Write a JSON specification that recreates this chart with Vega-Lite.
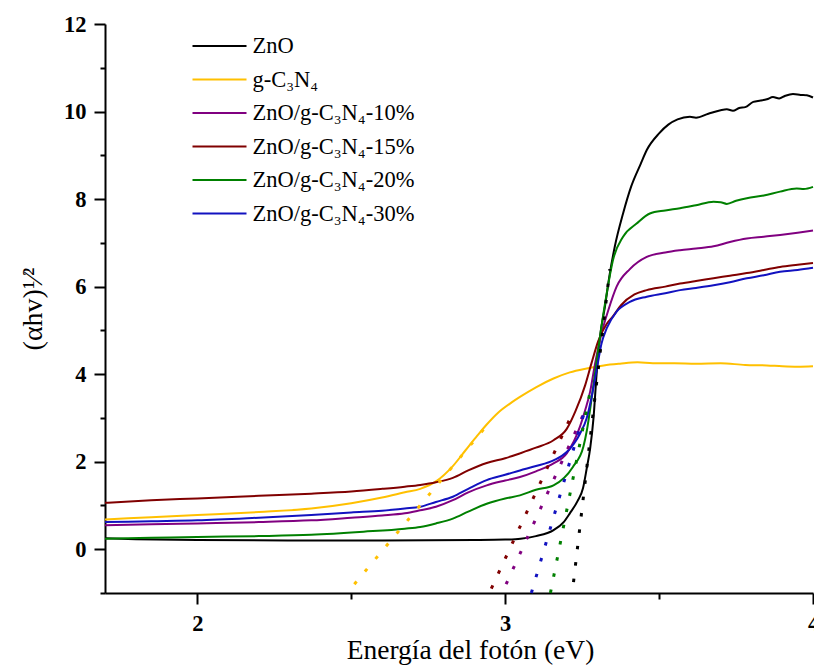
{
  "$schema": "https://vega.github.io/schema/vega-lite/v6.json",
  "width": 708,
  "height": 569,
  "autosize": "none",
  "padding": {"left": 105, "top": 24, "right": 1, "bottom": 72},
  "background": "white",
  "config": {
    "view": {"stroke": null},
    "font": "Liberation Serif",
    "axis": {"grid": false, "domainColor": "black", "domainWidth": 2, "tickColor": "black", "tickWidth": 2, "labelColor": "black", "titleColor": "black", "labelFont": "Liberation Serif", "titleFont": "Liberation Serif", "labelFontSize": 22.5, "labelFontWeight": "bold", "titleFontSize": 27.5, "titleFontWeight": "normal"},
    "legend": {"orient": "none", "legendX": 86.5, "legendY": 12, "symbolType": "stroke", "symbolSize": 2916, "symbolStrokeWidth": 2, "clipHeight": 20, "rowPadding": 10.5, "labelFont": "Liberation Serif", "labelFontSize": 22.5, "labelColor": "black", "labelOffset": 5, "labelLimit": 0, "padding": 0}
  },
  "datasets": {
    "curves": [
      {"series": "ZnO", "x": 1.70, "y": 0.25}, {"series": "ZnO", "x": 1.80, "y": 0.23}, {"series": "ZnO", "x": 2.00, "y": 0.21}, {"series": "ZnO", "x": 2.30, "y": 0.20}, {"series": "ZnO", "x": 2.60, "y": 0.20}, {"series": "ZnO", "x": 2.90, "y": 0.21}, {"series": "ZnO", "x": 3.00, "y": 0.22}, {"series": "ZnO", "x": 3.05, "y": 0.24}, {"series": "ZnO", "x": 3.10, "y": 0.30}, {"series": "ZnO", "x": 3.156, "y": 0.43}, {"series": "ZnO", "x": 3.19, "y": 0.62}, {"series": "ZnO", "x": 3.21, "y": 0.82}, {"series": "ZnO", "x": 3.235, "y": 1.1}, {"series": "ZnO", "x": 3.253, "y": 1.4}, {"series": "ZnO", "x": 3.265, "y": 1.85}, {"series": "ZnO", "x": 3.276, "y": 2.3}, {"series": "ZnO", "x": 3.287, "y": 3.0}, {"series": "ZnO", "x": 3.297, "y": 4.0}, {"series": "ZnO", "x": 3.308, "y": 4.85}, {"series": "ZnO", "x": 3.324, "y": 5.54}, {"series": "ZnO", "x": 3.34, "y": 6.3}, {"series": "ZnO", "x": 3.356, "y": 6.91}, {"series": "ZnO", "x": 3.383, "y": 7.67}, {"series": "ZnO", "x": 3.41, "y": 8.3}, {"series": "ZnO", "x": 3.44, "y": 8.8}, {"series": "ZnO", "x": 3.46, "y": 9.12}, {"series": "ZnO", "x": 3.50, "y": 9.5}, {"series": "ZnO", "x": 3.53, "y": 9.7}, {"series": "ZnO", "x": 3.56, "y": 9.82}, {"series": "ZnO", "x": 3.60, "y": 9.88}, {"series": "ZnO", "x": 3.62, "y": 9.86}, {"series": "ZnO", "x": 3.66, "y": 9.95}, {"series": "ZnO", "x": 3.70, "y": 10.03}, {"series": "ZnO", "x": 3.72, "y": 10.05}, {"series": "ZnO", "x": 3.74, "y": 10.02}, {"series": "ZnO", "x": 3.76, "y": 10.08}, {"series": "ZnO", "x": 3.78, "y": 10.1}, {"series": "ZnO", "x": 3.806, "y": 10.22}, {"series": "ZnO", "x": 3.83, "y": 10.25}, {"series": "ZnO", "x": 3.85, "y": 10.28}, {"series": "ZnO", "x": 3.87, "y": 10.33}, {"series": "ZnO", "x": 3.89, "y": 10.3}, {"series": "ZnO", "x": 3.91, "y": 10.36}, {"series": "ZnO", "x": 3.935, "y": 10.4}, {"series": "ZnO", "x": 3.96, "y": 10.38}, {"series": "ZnO", "x": 3.98, "y": 10.37}, {"series": "ZnO", "x": 4.00, "y": 10.32},

      {"series": "g-C₃N₄", "x": 1.70, "y": 0.68}, {"series": "g-C₃N₄", "x": 1.85, "y": 0.73}, {"series": "g-C₃N₄", "x": 2.00, "y": 0.78}, {"series": "g-C₃N₄", "x": 2.20, "y": 0.85}, {"series": "g-C₃N₄", "x": 2.37, "y": 0.93}, {"series": "g-C₃N₄", "x": 2.50, "y": 1.05}, {"series": "g-C₃N₄", "x": 2.60, "y": 1.18}, {"series": "g-C₃N₄", "x": 2.674, "y": 1.3}, {"series": "g-C₃N₄", "x": 2.724, "y": 1.38}, {"series": "g-C₃N₄", "x": 2.775, "y": 1.55}, {"series": "g-C₃N₄", "x": 2.83, "y": 1.9}, {"series": "g-C₃N₄", "x": 2.87, "y": 2.25}, {"series": "g-C₃N₄", "x": 2.91, "y": 2.6}, {"series": "g-C₃N₄", "x": 2.94, "y": 2.85}, {"series": "g-C₃N₄", "x": 2.977, "y": 3.12}, {"series": "g-C₃N₄", "x": 3.02, "y": 3.35}, {"series": "g-C₃N₄", "x": 3.048, "y": 3.48}, {"series": "g-C₃N₄", "x": 3.10, "y": 3.7}, {"series": "g-C₃N₄", "x": 3.157, "y": 3.9}, {"series": "g-C₃N₄", "x": 3.21, "y": 4.04}, {"series": "g-C₃N₄", "x": 3.265, "y": 4.13}, {"series": "g-C₃N₄", "x": 3.32, "y": 4.2}, {"series": "g-C₃N₄", "x": 3.373, "y": 4.24}, {"series": "g-C₃N₄", "x": 3.43, "y": 4.27}, {"series": "g-C₃N₄", "x": 3.48, "y": 4.25}, {"series": "g-C₃N₄", "x": 3.55, "y": 4.25}, {"series": "g-C₃N₄", "x": 3.62, "y": 4.24}, {"series": "g-C₃N₄", "x": 3.70, "y": 4.25}, {"series": "g-C₃N₄", "x": 3.78, "y": 4.21}, {"series": "g-C₃N₄", "x": 3.85, "y": 4.2}, {"series": "g-C₃N₄", "x": 3.90, "y": 4.18}, {"series": "g-C₃N₄", "x": 3.95, "y": 4.17}, {"series": "g-C₃N₄", "x": 4.00, "y": 4.18},

      {"series": "ZnO/g-C₃N₄-10%", "x": 1.70, "y": 0.55}, {"series": "ZnO/g-C₃N₄-10%", "x": 1.85, "y": 0.57}, {"series": "ZnO/g-C₃N₄-10%", "x": 2.00, "y": 0.59}, {"series": "ZnO/g-C₃N₄-10%", "x": 2.20, "y": 0.62}, {"series": "ZnO/g-C₃N₄-10%", "x": 2.37, "y": 0.66}, {"series": "ZnO/g-C₃N₄-10%", "x": 2.50, "y": 0.72}, {"series": "ZnO/g-C₃N₄-10%", "x": 2.60, "y": 0.77}, {"series": "ZnO/g-C₃N₄-10%", "x": 2.674, "y": 0.82}, {"series": "ZnO/g-C₃N₄-10%", "x": 2.724, "y": 0.89}, {"series": "ZnO/g-C₃N₄-10%", "x": 2.775, "y": 0.97}, {"series": "ZnO/g-C₃N₄-10%", "x": 2.83, "y": 1.12}, {"series": "ZnO/g-C₃N₄-10%", "x": 2.88, "y": 1.3}, {"series": "ZnO/g-C₃N₄-10%", "x": 2.94, "y": 1.46}, {"series": "ZnO/g-C₃N₄-10%", "x": 3.00, "y": 1.57}, {"series": "ZnO/g-C₃N₄-10%", "x": 3.048, "y": 1.65}, {"series": "ZnO/g-C₃N₄-10%", "x": 3.10, "y": 1.78}, {"series": "ZnO/g-C₃N₄-10%", "x": 3.157, "y": 1.96}, {"series": "ZnO/g-C₃N₄-10%", "x": 3.20, "y": 2.19}, {"series": "ZnO/g-C₃N₄-10%", "x": 3.243, "y": 2.8}, {"series": "ZnO/g-C₃N₄-10%", "x": 3.26, "y": 3.18}, {"series": "ZnO/g-C₃N₄-10%", "x": 3.276, "y": 3.6}, {"series": "ZnO/g-C₃N₄-10%", "x": 3.291, "y": 4.2}, {"series": "ZnO/g-C₃N₄-10%", "x": 3.313, "y": 4.93}, {"series": "ZnO/g-C₃N₄-10%", "x": 3.335, "y": 5.46}, {"series": "ZnO/g-C₃N₄-10%", "x": 3.362, "y": 6.0}, {"series": "ZnO/g-C₃N₄-10%", "x": 3.405, "y": 6.4}, {"series": "ZnO/g-C₃N₄-10%", "x": 3.46, "y": 6.68}, {"series": "ZnO/g-C₃N₄-10%", "x": 3.52, "y": 6.78}, {"series": "ZnO/g-C₃N₄-10%", "x": 3.568, "y": 6.83}, {"series": "ZnO/g-C₃N₄-10%", "x": 3.62, "y": 6.87}, {"series": "ZnO/g-C₃N₄-10%", "x": 3.677, "y": 6.92}, {"series": "ZnO/g-C₃N₄-10%", "x": 3.73, "y": 7.02}, {"series": "ZnO/g-C₃N₄-10%", "x": 3.785, "y": 7.1}, {"series": "ZnO/g-C₃N₄-10%", "x": 3.84, "y": 7.14}, {"series": "ZnO/g-C₃N₄-10%", "x": 3.893, "y": 7.18}, {"series": "ZnO/g-C₃N₄-10%", "x": 3.95, "y": 7.23}, {"series": "ZnO/g-C₃N₄-10%", "x": 4.00, "y": 7.28},

      {"series": "ZnO/g-C₃N₄-15%", "x": 1.70, "y": 1.06}, {"series": "ZnO/g-C₃N₄-15%", "x": 1.85, "y": 1.12}, {"series": "ZnO/g-C₃N₄-15%", "x": 2.00, "y": 1.16}, {"series": "ZnO/g-C₃N₄-15%", "x": 2.20, "y": 1.22}, {"series": "ZnO/g-C₃N₄-15%", "x": 2.37, "y": 1.27}, {"series": "ZnO/g-C₃N₄-15%", "x": 2.50, "y": 1.32}, {"series": "ZnO/g-C₃N₄-15%", "x": 2.60, "y": 1.38}, {"series": "ZnO/g-C₃N₄-15%", "x": 2.674, "y": 1.43}, {"series": "ZnO/g-C₃N₄-15%", "x": 2.724, "y": 1.47}, {"series": "ZnO/g-C₃N₄-15%", "x": 2.775, "y": 1.53}, {"series": "ZnO/g-C₃N₄-15%", "x": 2.83, "y": 1.63}, {"series": "ZnO/g-C₃N₄-15%", "x": 2.88, "y": 1.8}, {"series": "ZnO/g-C₃N₄-15%", "x": 2.94, "y": 1.97}, {"series": "ZnO/g-C₃N₄-15%", "x": 3.00, "y": 2.08}, {"series": "ZnO/g-C₃N₄-15%", "x": 3.048, "y": 2.19}, {"series": "ZnO/g-C₃N₄-15%", "x": 3.10, "y": 2.32}, {"series": "ZnO/g-C₃N₄-15%", "x": 3.157, "y": 2.49}, {"series": "ZnO/g-C₃N₄-15%", "x": 3.20, "y": 2.75}, {"series": "ZnO/g-C₃N₄-15%", "x": 3.228, "y": 3.15}, {"series": "ZnO/g-C₃N₄-15%", "x": 3.26, "y": 3.75}, {"series": "ZnO/g-C₃N₄-15%", "x": 3.28, "y": 4.24}, {"series": "ZnO/g-C₃N₄-15%", "x": 3.302, "y": 4.75}, {"series": "ZnO/g-C₃N₄-15%", "x": 3.33, "y": 5.15}, {"series": "ZnO/g-C₃N₄-15%", "x": 3.35, "y": 5.32}, {"series": "ZnO/g-C₃N₄-15%", "x": 3.377, "y": 5.58}, {"series": "ZnO/g-C₃N₄-15%", "x": 3.42, "y": 5.82}, {"series": "ZnO/g-C₃N₄-15%", "x": 3.46, "y": 5.92}, {"series": "ZnO/g-C₃N₄-15%", "x": 3.52, "y": 6.0}, {"series": "ZnO/g-C₃N₄-15%", "x": 3.568, "y": 6.07}, {"series": "ZnO/g-C₃N₄-15%", "x": 3.62, "y": 6.13}, {"series": "ZnO/g-C₃N₄-15%", "x": 3.677, "y": 6.19}, {"series": "ZnO/g-C₃N₄-15%", "x": 3.73, "y": 6.25}, {"series": "ZnO/g-C₃N₄-15%", "x": 3.785, "y": 6.31}, {"series": "ZnO/g-C₃N₄-15%", "x": 3.84, "y": 6.38}, {"series": "ZnO/g-C₃N₄-15%", "x": 3.893, "y": 6.45}, {"series": "ZnO/g-C₃N₄-15%", "x": 3.95, "y": 6.5}, {"series": "ZnO/g-C₃N₄-15%", "x": 4.00, "y": 6.54},

      {"series": "ZnO/g-C₃N₄-20%", "x": 1.70, "y": 0.24}, {"series": "ZnO/g-C₃N₄-20%", "x": 1.85, "y": 0.26}, {"series": "ZnO/g-C₃N₄-20%", "x": 2.00, "y": 0.28}, {"series": "ZnO/g-C₃N₄-20%", "x": 2.20, "y": 0.3}, {"series": "ZnO/g-C₃N₄-20%", "x": 2.37, "y": 0.33}, {"series": "ZnO/g-C₃N₄-20%", "x": 2.54, "y": 0.4}, {"series": "ZnO/g-C₃N₄-20%", "x": 2.674, "y": 0.47}, {"series": "ZnO/g-C₃N₄-20%", "x": 2.724, "y": 0.51}, {"series": "ZnO/g-C₃N₄-20%", "x": 2.775, "y": 0.59}, {"series": "ZnO/g-C₃N₄-20%", "x": 2.83, "y": 0.7}, {"series": "ZnO/g-C₃N₄-20%", "x": 2.88, "y": 0.86}, {"series": "ZnO/g-C₃N₄-20%", "x": 2.94, "y": 1.04}, {"series": "ZnO/g-C₃N₄-20%", "x": 3.00, "y": 1.16}, {"series": "ZnO/g-C₃N₄-20%", "x": 3.048, "y": 1.23}, {"series": "ZnO/g-C₃N₄-20%", "x": 3.10, "y": 1.36}, {"series": "ZnO/g-C₃N₄-20%", "x": 3.157, "y": 1.46}, {"series": "ZnO/g-C₃N₄-20%", "x": 3.22, "y": 1.88}, {"series": "ZnO/g-C₃N₄-20%", "x": 3.254, "y": 2.34}, {"series": "ZnO/g-C₃N₄-20%", "x": 3.265, "y": 2.7}, {"series": "ZnO/g-C₃N₄-20%", "x": 3.28, "y": 3.4}, {"series": "ZnO/g-C₃N₄-20%", "x": 3.297, "y": 4.3}, {"series": "ZnO/g-C₃N₄-20%", "x": 3.313, "y": 5.1}, {"series": "ZnO/g-C₃N₄-20%", "x": 3.33, "y": 5.85}, {"series": "ZnO/g-C₃N₄-20%", "x": 3.35, "y": 6.6}, {"series": "ZnO/g-C₃N₄-20%", "x": 3.383, "y": 7.14}, {"series": "ZnO/g-C₃N₄-20%", "x": 3.427, "y": 7.44}, {"series": "ZnO/g-C₃N₄-20%", "x": 3.47, "y": 7.67}, {"series": "ZnO/g-C₃N₄-20%", "x": 3.52, "y": 7.74}, {"series": "ZnO/g-C₃N₄-20%", "x": 3.568, "y": 7.79}, {"series": "ZnO/g-C₃N₄-20%", "x": 3.62, "y": 7.86}, {"series": "ZnO/g-C₃N₄-20%", "x": 3.677, "y": 7.94}, {"series": "ZnO/g-C₃N₄-20%", "x": 3.70, "y": 7.93}, {"series": "ZnO/g-C₃N₄-20%", "x": 3.72, "y": 7.89}, {"series": "ZnO/g-C₃N₄-20%", "x": 3.75, "y": 7.96}, {"series": "ZnO/g-C₃N₄-20%", "x": 3.785, "y": 8.02}, {"series": "ZnO/g-C₃N₄-20%", "x": 3.84, "y": 8.08}, {"series": "ZnO/g-C₃N₄-20%", "x": 3.893, "y": 8.17}, {"series": "ZnO/g-C₃N₄-20%", "x": 3.947, "y": 8.24}, {"series": "ZnO/g-C₃N₄-20%", "x": 3.97, "y": 8.23}, {"series": "ZnO/g-C₃N₄-20%", "x": 4.00, "y": 8.28},

      {"series": "ZnO/g-C₃N₄-30%", "x": 1.70, "y": 0.62}, {"series": "ZnO/g-C₃N₄-30%", "x": 1.85, "y": 0.64}, {"series": "ZnO/g-C₃N₄-30%", "x": 2.00, "y": 0.66}, {"series": "ZnO/g-C₃N₄-30%", "x": 2.20, "y": 0.72}, {"series": "ZnO/g-C₃N₄-30%", "x": 2.37, "y": 0.78}, {"series": "ZnO/g-C₃N₄-30%", "x": 2.50, "y": 0.84}, {"series": "ZnO/g-C₃N₄-30%", "x": 2.60, "y": 0.88}, {"series": "ZnO/g-C₃N₄-30%", "x": 2.674, "y": 0.93}, {"series": "ZnO/g-C₃N₄-30%", "x": 2.724, "y": 0.97}, {"series": "ZnO/g-C₃N₄-30%", "x": 2.775, "y": 1.08}, {"series": "ZnO/g-C₃N₄-30%", "x": 2.83, "y": 1.2}, {"series": "ZnO/g-C₃N₄-30%", "x": 2.88, "y": 1.38}, {"series": "ZnO/g-C₃N₄-30%", "x": 2.94, "y": 1.58}, {"series": "ZnO/g-C₃N₄-30%", "x": 3.00, "y": 1.7}, {"series": "ZnO/g-C₃N₄-30%", "x": 3.048, "y": 1.8}, {"series": "ZnO/g-C₃N₄-30%", "x": 3.10, "y": 1.9}, {"series": "ZnO/g-C₃N₄-30%", "x": 3.157, "y": 2.03}, {"series": "ZnO/g-C₃N₄-30%", "x": 3.20, "y": 2.22}, {"series": "ZnO/g-C₃N₄-30%", "x": 3.243, "y": 2.64}, {"series": "ZnO/g-C₃N₄-30%", "x": 3.265, "y": 3.0}, {"series": "ZnO/g-C₃N₄-30%", "x": 3.28, "y": 3.45}, {"series": "ZnO/g-C₃N₄-30%", "x": 3.297, "y": 4.09}, {"series": "ZnO/g-C₃N₄-30%", "x": 3.313, "y": 4.7}, {"series": "ZnO/g-C₃N₄-30%", "x": 3.33, "y": 5.05}, {"series": "ZnO/g-C₃N₄-30%", "x": 3.362, "y": 5.43}, {"series": "ZnO/g-C₃N₄-30%", "x": 3.405, "y": 5.65}, {"series": "ZnO/g-C₃N₄-30%", "x": 3.46, "y": 5.77}, {"series": "ZnO/g-C₃N₄-30%", "x": 3.52, "y": 5.85}, {"series": "ZnO/g-C₃N₄-30%", "x": 3.568, "y": 5.92}, {"series": "ZnO/g-C₃N₄-30%", "x": 3.62, "y": 5.97}, {"series": "ZnO/g-C₃N₄-30%", "x": 3.677, "y": 6.03}, {"series": "ZnO/g-C₃N₄-30%", "x": 3.73, "y": 6.1}, {"series": "ZnO/g-C₃N₄-30%", "x": 3.785, "y": 6.19}, {"series": "ZnO/g-C₃N₄-30%", "x": 3.84, "y": 6.26}, {"series": "ZnO/g-C₃N₄-30%", "x": 3.893, "y": 6.34}, {"series": "ZnO/g-C₃N₄-30%", "x": 3.95, "y": 6.38}, {"series": "ZnO/g-C₃N₄-30%", "x": 4.00, "y": 6.43}
    ],
    "fits": [
      {"series": "g-C₃N₄", "x": 2.51, "y": -0.8}, {"series": "g-C₃N₄", "x": 2.955, "y": 2.95},
      {"series": "ZnO/g-C₃N₄-15%", "x": 2.955, "y": -0.9}, {"series": "ZnO/g-C₃N₄-15%", "x": 3.225, "y": 3.2},
      {"series": "ZnO/g-C₃N₄-10%", "x": 3.003, "y": -0.8}, {"series": "ZnO/g-C₃N₄-10%", "x": 3.265, "y": 3.25},
      {"series": "ZnO/g-C₃N₄-30%", "x": 3.085, "y": -1.0}, {"series": "ZnO/g-C₃N₄-30%", "x": 3.26, "y": 3.2},
      {"series": "ZnO/g-C₃N₄-20%", "x": 3.147, "y": -1.0}, {"series": "ZnO/g-C₃N₄-20%", "x": 3.276, "y": 3.6},
      {"series": "ZnO", "x": 3.222, "y": -0.75}, {"series": "ZnO", "x": 3.34, "y": 6.4}
    ]
  },
  "encoding": {
    "x": {"field": "x", "type": "quantitative", "scale": {"domain": [1.7, 4], "nice": false, "zero": false},
      "axis": {"title": "Energía del fotón (eV)", "format": "~g", "values": [2, 2.5, 3, 3.5, 4], "labelExpr": "datum.value % 1 === 0 ? datum.label : ''", "tickSize": {"condition": {"test": "datum.value % 1 === 0", "value": 11}, "value": 6}, "labelPadding": 8, "titleBaseline": "alphabetic", "titleY": 65, "titleX": 365, "labelFlush": false}},
    "y": {"field": "y", "type": "quantitative", "scale": {"domain": [-1, 12], "nice": false, "zero": false},
      "axis": {"title": "(αhv)¹⁄²", "titleFontSize": 28, "format": "~g", "values": [-1, 0, 1, 2, 3, 4, 5, 6, 7, 8, 9, 10, 11, 12], "labelExpr": "datum.value % 2 === 0 ? datum.label : ''", "tickSize": {"condition": {"test": "datum.value % 2 === 0", "value": 11}, "value": 5}, "labelPadding": 8, "titlePadding": 16}},
    "color": {"field": "series", "type": "nominal",
      "scale": {"domain": ["ZnO", "g-C₃N₄", "ZnO/g-C₃N₄-10%", "ZnO/g-C₃N₄-15%", "ZnO/g-C₃N₄-20%", "ZnO/g-C₃N₄-30%"], "range": ["#000000", "#FFC000", "#800080", "#800000", "#008000", "#1212C0"]}}
  },
  "layer": [
    {"data": {"name": "curves"}, "mark": {"type": "line", "strokeWidth": 2, "interpolate": "monotone"},
      "encoding": {"color": {"field": "series", "type": "nominal", "title": null}}},
    {"data": {"name": "fits"}, "mark": {"type": "line", "strokeWidth": 3, "strokeDash": [3.5, 13]},
      "encoding": {"color": {"field": "series", "type": "nominal", "legend": null}}}
  ],
  "resolve": {"legend": {"color": "independent"}}
}
